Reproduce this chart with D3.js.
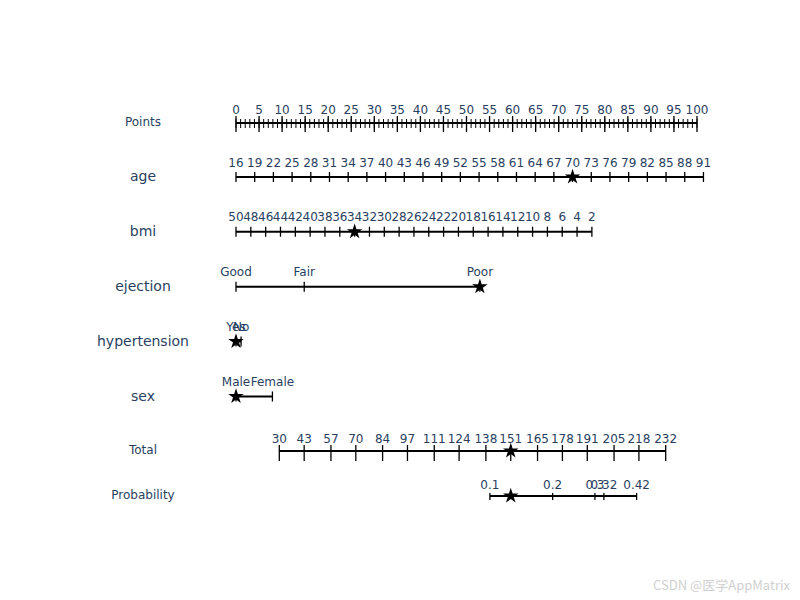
<!DOCTYPE html>
<html>
<head>
<meta charset="utf-8">
<script src="https://cdn.jsdelivr.net/npm/d3@7"></script>
<style>
  html, body { margin: 0; padding: 0; background: #fff; }
  svg { display: block; }
  text { font-family: "DejaVu Sans", Verdana, sans-serif; }
</style>
</head>
<body>
<svg id="chart" width="800" height="600"></svg>
<script>
// ---------------- data ----------------
const pointsTicks = [0,5,10,15,20,25,30,35,40,45,50,55,60,65,70,75,80,85,90,95,100];

const ageTicks = [16,19,22,25,28,31,34,37,40,43,46,49,52,55,58,61,64,67,70,73,76,79,82,85,88,91];
const ageRange = [16, 91];
const agePointsRange = [0, 101.4];

const bmiTicks = [50,48,46,44,42,40,38,36,34,32,30,28,26,24,22,20,18,16,14,12,10,8,6,4,2];
const bmiRange = [50, 2];
const bmiPointsRange = [0, 77.2];

const ejectionLevels = ["Good", "Fair", "Poor"];
const ejectionPoints = [0, 14.8, 52.9];

const hypertensionLevels = ["Yes", "No"];
const hypertensionPoints = [0, 1.1];

const sexLevels = ["Male", "Female"];
const sexPoints = [0, 7.9];

const totalTicks = [30,43,57,70,84,97,111,124,138,151,165,178,191,205,218,232];

const probLabels = ["0.1", "0.2", "0.3", "0.32", "0.42"];
const probTotals = [140.1, 172.9, 195.0, 199.7, 216.8];

const patientAge = 70;
const patientBmi = 34;
const patientEjection = "Poor";
const patientHypertension = "Yes";
const patientSex = "Male";
const patientTotal = 151;

const rowNames = ["Points", "age", "bmi", "ejection", "hypertension", "sex", "Total", "Probability"];

// ---------------- layout ----------------
const svg = d3.select("#chart");
const textColor = "#2a3f5f";

const xPoints = d3.scaleLinear().domain([0, 100]).range([236, 697]);
const xTotal = d3.scaleLinear().domain([30, 232]).range([279.3, 665.7]);

const rowY = [123, 177, 231.7, 286.7, 341.5, 396.5, 451, 496];
const labelSize = [12, 14, 14, 14, 14, 14, 12, 12];

// row labels
svg.selectAll("text.rowlab").data(rowNames).join("text")
  .attr("class", "rowlab")
  .attr("x", 143)
  .attr("y", (d, i) => rowY[i] - 1)
  .attr("text-anchor", "middle")
  .attr("dominant-baseline", "central")
  .attr("font-size", (d, i) => labelSize[i])
  .attr("fill", textColor)
  .text(d => d);

function drawRow(y, xs, labels, opts) {
  const g = svg.append("g");
  const o = Object.assign({tUp: 5, tDown: 5, labelDy: -14}, opts || {});
  g.append("line")
    .attr("x1", d3.min(xs)).attr("x2", d3.max(xs))
    .attr("y1", y).attr("y2", y)
    .attr("stroke", "#000").attr("stroke-width", 2);
  g.selectAll("line.tk").data(xs).join("line")
    .attr("class", "tk")
    .attr("x1", d => d).attr("x2", d => d)
    .attr("y1", y - o.tUp).attr("y2", y + o.tDown)
    .attr("stroke", "#000").attr("stroke-width", 1.3);
  g.selectAll("text").data(labels).join("text")
    .attr("x", (d, i) => xs[i])
    .attr("y", y + o.labelDy)
    .attr("text-anchor", "middle")
    .attr("dominant-baseline", "central")
    .attr("font-size", 12)
    .attr("fill", textColor)
    .text(d => d);
  return g;
}

const star = d3.symbol().type(d3.symbolStar).size(75);
function drawStar(x, y) {
  svg.append("path")
    .attr("d", star())
    .attr("transform", `translate(${x},${y})`)
    .attr("fill", "#000");
}

// Points row with minor ticks
{
  const y = rowY[0];
  const minor = d3.range(0, 101, 1);
  svg.selectAll("line.minor").data(minor).join("line")
    .attr("class", "minor")
    .attr("x1", d => xPoints(d)).attr("x2", d => xPoints(d))
    .attr("y1", y - 4).attr("y2", y + 5)
    .attr("stroke", "#000").attr("stroke-width", 1);
  drawRow(y, pointsTicks.map(d => xPoints(d)), pointsTicks, {tUp: 7, tDown: 9, labelDy: -13});
}

// age
const ageToPts = d3.scaleLinear().domain(ageRange).range(agePointsRange);
drawRow(rowY[1], ageTicks.map(d => xPoints(ageToPts(d))), ageTicks, {labelDy: -14.5});
drawStar(xPoints(ageToPts(patientAge)), rowY[1]);

// bmi
const bmiToPts = d3.scaleLinear().domain(bmiRange).range(bmiPointsRange);
drawRow(rowY[2], bmiTicks.map(d => xPoints(bmiToPts(d))), bmiTicks, {labelDy: -14.5});
drawStar(xPoints(bmiToPts(patientBmi)), rowY[2]);

// ejection
drawRow(rowY[3], ejectionPoints.map(d => xPoints(d)), ejectionLevels, {labelDy: -15});
drawStar(xPoints(ejectionPoints[ejectionLevels.indexOf(patientEjection)]), rowY[3]);

// hypertension
drawRow(rowY[4], hypertensionPoints.map(d => xPoints(d)), hypertensionLevels, {labelDy: -15});
drawStar(xPoints(hypertensionPoints[hypertensionLevels.indexOf(patientHypertension)]), rowY[4]);

// sex
drawRow(rowY[5], sexPoints.map(d => xPoints(d)), sexLevels, {labelDy: -15});
drawStar(xPoints(sexPoints[sexLevels.indexOf(patientSex)]), rowY[5]);

// Total
drawRow(rowY[6], totalTicks.map(d => xTotal(d)), totalTicks, {tUp: 6, tDown: 10, labelDy: -12.5});
drawStar(xTotal(patientTotal), rowY[6]);

// Probability
drawRow(rowY[7], probTotals.map(d => xTotal(d)), probLabels, {tUp: 3, tDown: 4, labelDy: -11});
drawStar(xTotal(patientTotal), rowY[7]);

// watermark
svg.append("text")
  .attr("x", 790).attr("y", 584)
  .attr("text-anchor", "end")
  .attr("dominant-baseline", "central")
  .attr("font-size", 13)
  .attr("fill", "#d0d0d0")
  .style("font-family", "'Noto Sans CJK SC', 'DejaVu Sans', sans-serif")
  .text("CSDN @医学AppMatrix");
</script>
</body>
</html>
